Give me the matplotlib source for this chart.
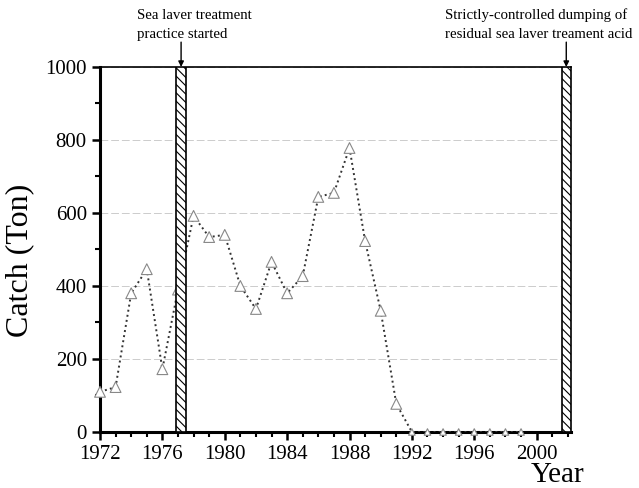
import numpy as np
import matplotlib.pyplot as plt
from matplotlib.ticker import MultipleLocator

years = list(range(1972, 2000))
catch = [110, 123, 380, 446, 172, 390, 592, 534, 540, 400, 337, 466, 380, 427,
         644, 655, 778, 523, 332, 77, 0, 0, 0, 0, 0, 0, 0, 0]
events = [(1976.9, 1977.5), (2001.6, 2002.2)]
notes = ["Sea laver treatment\npractice started",
         "Strictly-controlled dumping of\nresidual sea laver treament acid"]
note_x = [1974.35, 1994.15]

plt.rcParams['font.family'] = ['Liberation Serif', 'DejaVu Serif']
plt.rcParams['hatch.linewidth'] = 0.8
plt.rcParams['hatch.color'] = '#333333'

fig = plt.figure(figsize=(6.39, 4.88), dpi=100)
ax = fig.add_axes([0.1565, 0.1148, 0.737, 0.748])

ax.plot(years, catch, linestyle=':', color='#333333', lw=1.4, zorder=3)
sizes = [60 if v > 0 else 22 for v in catch]
ax.scatter(years, catch, s=sizes, marker='^', facecolor='white',
           edgecolor='#888888', linewidth=0.8, clip_on=False, zorder=3)

for x0, x1 in events:
    ax.axvspan(x0, x1, facecolor='white', edgecolor='black', hatch='\\\\\\\\',
               lw=1.2, zorder=4)

ax.set_xlim(1972, 2002.2)
ax.set_ylim(0, 1000)
ax.xaxis.set_major_locator(MultipleLocator(4))
ax.xaxis.set_minor_locator(MultipleLocator(1))
ax.yaxis.set_major_locator(MultipleLocator(200))
ax.yaxis.set_minor_locator(MultipleLocator(100))
ax.tick_params(which='major', direction='out', length=6, width=1.8, labelsize=15)
ax.tick_params(which='minor', direction='out', length=3.5, width=1.5)
ax.grid(axis='y', color='#cccccc', linestyle='--', lw=0.7, dashes=(8, 3))
for side in ['left', 'bottom']:
    ax.spines[side].set_linewidth(2.2)
ax.spines['top'].set_linewidth(1.2)
ax.spines['right'].set_linewidth(1.2)

ax.set_ylabel('Catch (Ton)', fontsize=23)
ax.yaxis.set_label_coords(-0.14, 0.47)
fig.text(0.873, 0.0, 'Year', fontsize=21, ha='center', va='bottom')

for (x0, x1), note, nx in zip(events, notes, note_x):
    xc = (x0 + x1) / 2
    ax.text(nx, 1072, note, ha='left', va='bottom', fontsize=10.7,
            linespacing=1.6, clip_on=False)
    ax.annotate('', xy=(xc, 1000), xytext=(xc, 1068),
                arrowprops=dict(arrowstyle='-|>', color='black', lw=1,
                                mutation_scale=8, shrinkA=0, shrinkB=0),
                annotation_clip=False)

fig.savefig('out.png', dpi=100)
